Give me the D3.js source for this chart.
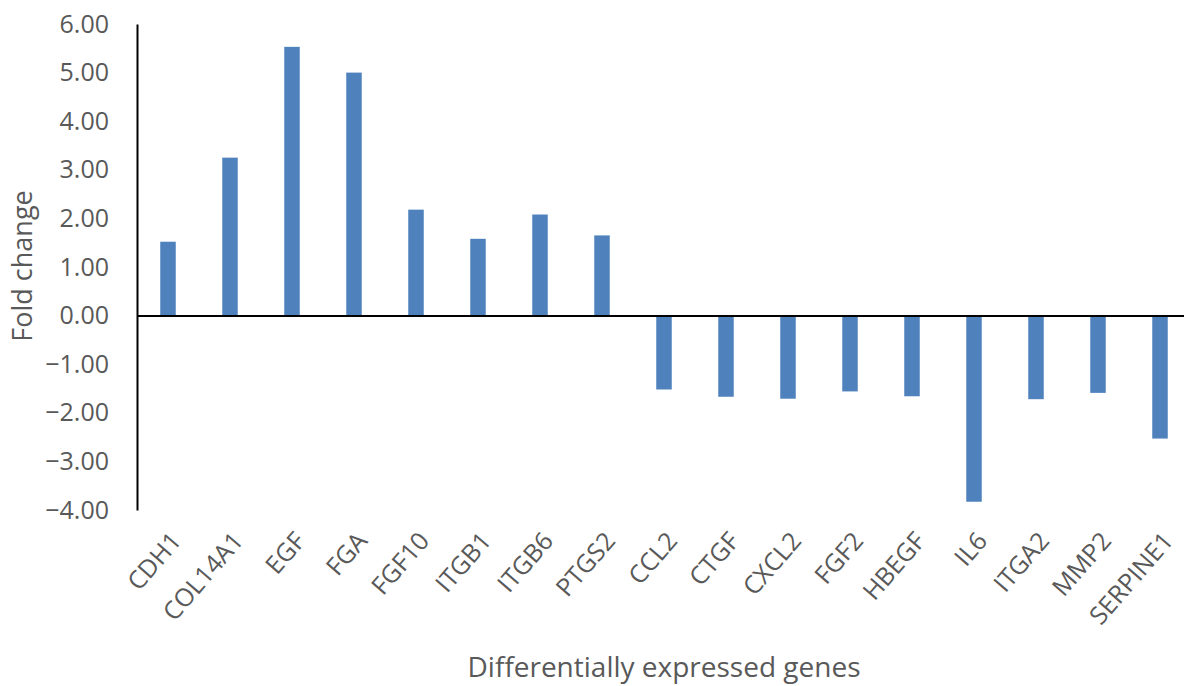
<!DOCTYPE html>
<html>
<head>
<meta charset="utf-8">
<script src="https://cdn.jsdelivr.net/npm/d3@7"></script>
<style>
  html, body { margin: 0; padding: 0; background: #fff; }
  svg { display: block; font-family: "Open Sans", sans-serif; }
</style>
</head>
<body>
<svg id="chart" width="1184" height="686"></svg>
<script>
const genes = ["CDH1","COL14A1","EGF","FGA","FGF10","ITGB1","ITGB6","PTGS2","CCL2","CTGF","CXCL2","FGF2","HBEGF","IL6","ITGA2","MMP2","SERPINE1"];
const foldChange = [1.52, 3.25, 5.53, 5.00, 2.18, 1.58, 2.08, 1.65, -1.52, -1.67, -1.71, -1.56, -1.66, -3.83, -1.72, -1.59, -2.53];
const yTicks = [-4, -3, -2, -1, 0, 1, 2, 3, 4, 5, 6];
const yTitle = "Fold change";
const xTitle = "Differentially expressed genes";

const svg = d3.select("#chart");
const mLeft = 137, mRight = 1191, mTop = 24, mBottom = 510;

const x = d3.scaleBand().domain(genes).range([mLeft, mRight]).paddingInner(0.75).paddingOuter(0.375);
const y = d3.scaleLinear().domain([-4, 6]).range([mBottom, mTop]);

// bars
svg.append("g").selectAll("rect").data(genes).join("rect")
  .attr("x", d => x(d))
  .attr("width", x.bandwidth())
  .attr("y", (d, i) => y(Math.max(0, foldChange[i])))
  .attr("height", (d, i) => Math.abs(y(foldChange[i]) - y(0)))
  .attr("fill", "#4F81BD");

// y axis
const yAxis = d3.axisLeft(y).tickValues(yTicks).tickFormat(d3.format(".2f")).tickSize(0).tickPadding(28);
const gy = svg.append("g").attr("transform", `translate(${mLeft},0)`).call(yAxis);
gy.select(".domain").attr("stroke", "#000").attr("stroke-width", 2);
gy.selectAll("text").attr("fill", "#595959").style("font-size", "25px").style("font-family", "'Open Sans', sans-serif");

// zero line (x axis)
const xAxis = d3.axisBottom(x).tickSize(0).tickFormat("");
const gx = svg.append("g").attr("transform", `translate(0,${y(0)})`).call(xAxis);
gx.select(".domain").attr("stroke", "#000").attr("stroke-width", 2);

// category labels
svg.append("g").selectAll("text").data(genes).join("text")
  .attr("transform", d => `translate(${x(d) + x.bandwidth() / 2 + 8},${mBottom + 26}) rotate(-49)`)
  .attr("text-anchor", "end")
  .attr("dy", "0.35em")
  .attr("fill", "#595959")
  .style("font-size", "25px")
  .text(d => d);

// titles
svg.append("text")
  .attr("transform", `translate(32,266) rotate(-90)`)
  .attr("text-anchor", "middle")
  .attr("fill", "#595959")
  .style("font-size", "27px")
  .text(yTitle);

svg.append("text")
  .attr("x", 664).attr("y", 677)
  .attr("text-anchor", "middle")
  .attr("fill", "#595959")
  .style("font-size", "28px")
  .text(xTitle);
</script>
</body>
</html>
